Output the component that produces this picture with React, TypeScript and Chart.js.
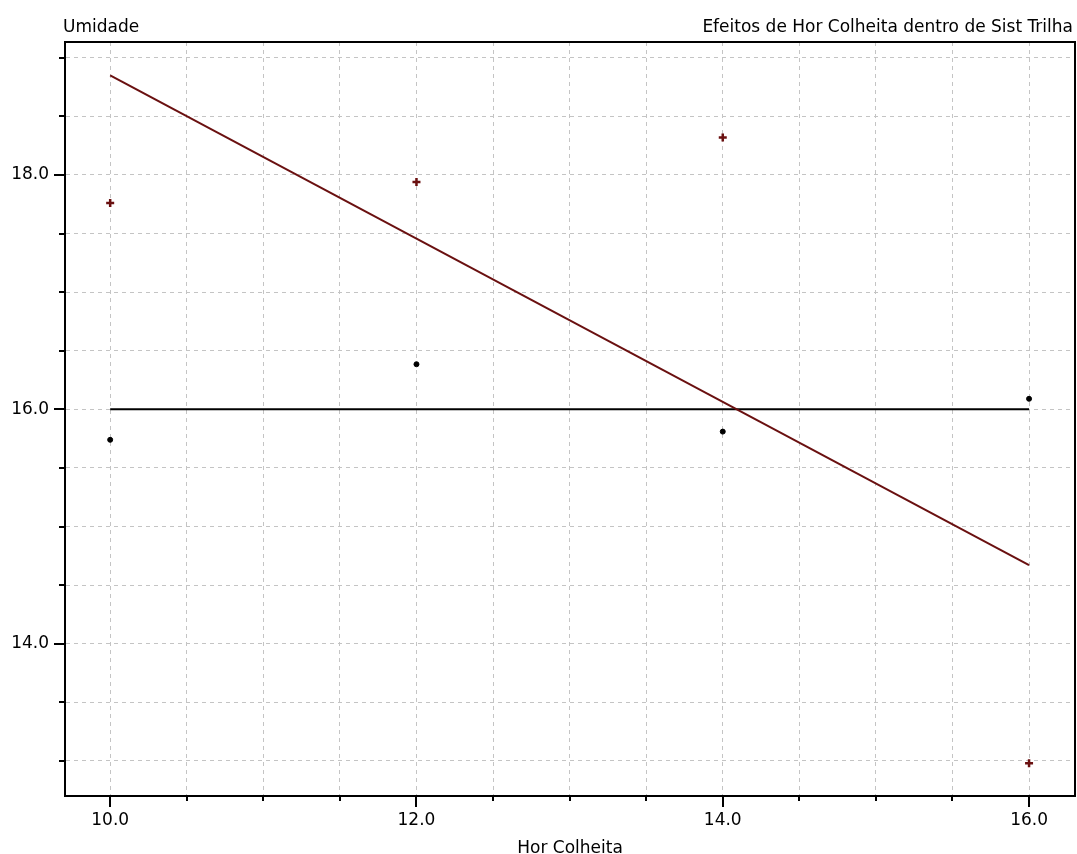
import React, { useEffect, useRef } from "react";
import { Chart, registerables } from "chart.js";

Chart.register(...registerables);

const hours = [10, 12, 14, 16];
const trilhaA = [17.76, 17.94, 18.32, 12.98];
const trilhaB = [15.74, 16.385, 15.81, 16.09];
const fitHours = [10, 16];
const fitA = [18.85, 14.67];
const fitB = [16.0, 16.0];
const xTickValues = [10, 10.5, 11, 11.5, 12, 12.5, 13, 13.5, 14, 14.5, 15, 15.5, 16];
const yTickValues = [13, 13.5, 14, 14.5, 15, 15.5, 16, 16.5, 17, 17.5, 18, 18.5, 19];
const labeledX = [10, 12, 14, 16];
const labeledY = [14, 16, 18];
const yTitle = "Umidade";
const chartTitle = "Efeitos de Hor Colheita dentro de Sist Trilha";
const xTitle = "Hor Colheita";

const RED = "#6a1010";
const FONT = "'DejaVu Sans', sans-serif";
const FS = 17;

const framePlugin = {
  id: "frame",
  afterDraw(chart: any) {
    const { ctx, chartArea } = chart;
    const xs = chart.scales.x;
    const ys = chart.scales.y;
    ctx.save();
    ctx.strokeStyle = "#000";
    ctx.lineWidth = 2;
    ctx.strokeRect(chartArea.left, chartArea.top, chartArea.right - chartArea.left, chartArea.bottom - chartArea.top);
    // tick marks: long at labelled values, short elsewhere
    ctx.beginPath();
    xTickValues.forEach((v) => {
      const px = Math.round(xs.getPixelForValue(v));
      const len = labeledX.includes(v) ? 11 : 5;
      ctx.moveTo(px, chartArea.bottom);
      ctx.lineTo(px, chartArea.bottom + len);
    });
    yTickValues.forEach((v) => {
      const py = Math.round(ys.getPixelForValue(v));
      const len = labeledY.includes(v) ? 11 : 6;
      ctx.moveTo(chartArea.left, py);
      ctx.lineTo(chartArea.left - len, py);
    });
    ctx.stroke();
    ctx.fillStyle = "#000";
    ctx.font = `${FS}px ${FONT}`;
    ctx.textBaseline = "alphabetic";
    ctx.textAlign = "left";
    ctx.fillText(yTitle, 63, 32);
    ctx.textAlign = "right";
    ctx.fillText(chartTitle, 1073, 32);
    ctx.restore();
  },
};

const gridOpts = {
  color: "#c4c4c4",
  lineWidth: 1,
  drawTicks: true,
  tickLength: 8,
  tickColor: "rgba(0,0,0,0)",
  tickWidth: 0,
  tickBorderDash: [],
};

export default function App() {
  const ref = useRef<HTMLCanvasElement>(null);
  useEffect(() => {
    if (!ref.current) return;
    const chart = new Chart(ref.current, {
      type: "scatter",
      data: {
        datasets: [
          {
            label: "fitA",
            data: fitHours.map((x, i) => ({ x, y: fitA[i] })),
            showLine: true,
            borderColor: RED,
            borderWidth: 2,
            pointRadius: 0,
          },
          {
            label: "fitB",
            data: fitHours.map((x, i) => ({ x, y: fitB[i] })),
            showLine: true,
            borderColor: "#000",
            borderWidth: 2,
            pointRadius: 0,
          },
          {
            label: "A",
            data: hours.map((x, i) => ({ x, y: trilhaA[i] })),
            pointStyle: "cross",
            pointRadius: 4,
            borderColor: RED,
            backgroundColor: RED,
            borderWidth: 2.5,
          },
          {
            label: "B",
            data: hours.map((x, i) => ({ x, y: trilhaB[i] })),
            pointStyle: "circle",
            pointRadius: 2.5,
            borderColor: "#000",
            backgroundColor: "#000",
            borderWidth: 1,
          },
        ],
      },
      options: {
        animation: false,
        responsive: false,
        maintainAspectRatio: false,
        layout: { autoPadding: false, padding: { top: 42, right: 2, left: 0, bottom: 0 } },
        plugins: { legend: { display: false }, tooltip: { enabled: false } },
        scales: {
          x: {
            type: "linear",
            min: 9.705,
            max: 16.3,
            afterBuildTicks: (s: any) => {
              s.ticks = xTickValues.map((v) => ({ value: v }));
            },
            afterFit: (s: any) => {
              s.height = 58;
              s.paddingRight = 0;
              s.paddingLeft = 0;
            },
            border: { display: true, color: "#000", width: 2, dash: [4, 4] },
            grid: gridOpts,
            ticks: {
              autoSkip: false,
              maxRotation: 0,
              padding: 6,
              color: "#000",
              font: { family: FONT, size: FS },
              callback: (v: any) => (labeledX.includes(Number(v)) ? Number(v).toFixed(1) : ""),
            },
            title: {
              display: true,
              text: xTitle,
              color: "#000",
              font: { family: FONT, size: FS, lineHeight: 1 },
              padding: { top: 0, bottom: -3 },
            },
          },
          y: {
            type: "linear",
            min: 12.7,
            max: 19.135,
            afterBuildTicks: (s: any) => {
              s.ticks = yTickValues.map((v) => ({ value: v }));
            },
            afterFit: (s: any) => {
              s.width = 65;
            },
            border: { display: true, color: "#000", width: 2, dash: [4, 4] },
            grid: gridOpts,
            ticks: {
              autoSkip: false,
              padding: 8,
              color: "#000",
              font: { family: FONT, size: FS },
              callback: (v: any) => (labeledY.includes(Number(v)) ? Number(v).toFixed(1) : ""),
            },
          },
        },
      },
      plugins: [framePlugin],
    } as any);
    return () => chart.destroy();
  }, []);
  return (
    <div style={{ position: "fixed", left: 0, top: 0, width: 1077, height: 854, background: "#fff" }}>
      <canvas ref={ref} width={1077} height={854} style={{ width: 1077, height: 854, display: "block" }} />
    </div>
  );
}
